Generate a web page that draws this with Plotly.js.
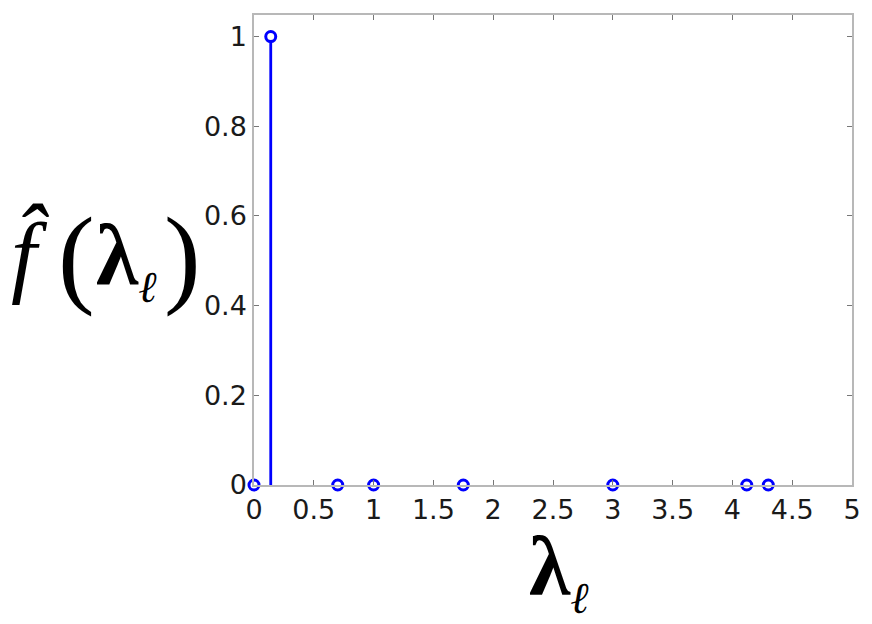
<!DOCTYPE html>
<html>
<head>
<meta charset="utf-8">
<script src="https://cdn.plot.ly/plotly-3.0.1.min.js"></script>
<style>
  html, body { margin: 0; padding: 0; background: #fff; }
  #plotArea { width: 872px; height: 624px; }
</style>
</head>
<body>
<div id="plotArea"></div>
<script>
// eigenvalues (x) and spectral coefficients (y)
var lambdas = [0, 0.14, 0.70, 1.0, 1.75, 3.0, 4.12, 4.30];
var fhat = [0, 1, 0, 0, 0, 0, 0, 0];

var xTicks = [0, 0.5, 1, 1.5, 2, 2.5, 3, 3.5, 4, 4.5, 5];
var yTicks = [0, 0.2, 0.4, 0.6, 0.8, 1];

var blue = "#0000ff";
var axisGray = "#b8b8b8";

// plot box in pixels (used to place the big math titles)
var W = 872, H = 624;
var L = 254, R = 20, T = 15, B = 139;
function px(x) { return (x - L) / (W - L - R); }
function py(y) { return (H - B - y) / (H - T - B); }

// stem plot: markers + error bars going down to zero
var trace = [{
  x: lambdas,
  y: fhat,
  mode: "markers",
  type: "scatter",
  cliponaxis: false,
  marker: { symbol: "circle", size: 10, color: "#fff", line: { color: blue, width: 3 } },
  error_y: {
    type: "data",
    symmetric: false,
    array: fhat.map(function () { return 0; }),
    arrayminus: fhat,
    color: blue,
    thickness: 2.8,
    width: 0
  },
  hoverinfo: "x+y"
}];

var tickFont = { family: "DejaVu Sans, sans-serif", size: 27, color: "#1a1a1a" };
var serif = "Liberation Serif, Times New Roman, serif";

function piece(text, x, y, size) {
  return {
    xref: "paper", yref: "paper",
    x: px(x), y: py(y),
    xanchor: "center", yanchor: "middle",
    showarrow: false,
    font: { family: serif, size: size, color: "#000" },
    text: text
  };
}

// bold lambda with a script-ell subscript
function lambdaEll(subSize) {
  return '<b>\u03bb</b><sub><span style="font-size:' + subSize + 'px"><i>\u2113</i></span></sub>';
}

var layout = {
  width: W,
  height: H,
  margin: { l: L, r: R, t: T, b: B },
  paper_bgcolor: "#fff",
  plot_bgcolor: "#fff",
  showlegend: false,
  xaxis: {
    range: [0, 5],
    tickvals: xTicks,
    ticktext: xTicks.map(String),
    ticks: "inside",
    ticklen: 5,
    tickcolor: "#777",
    tickwidth: 1,
    showline: true,
    linecolor: axisGray,
    linewidth: 1.5,
    mirror: "ticks",
    showgrid: false,
    zeroline: false,
    tickfont: tickFont
  },
  yaxis: {
    range: [0, 1.048],
    tickvals: yTicks,
    ticktext: yTicks.map(String),
    ticks: "inside",
    ticklen: 5,
    tickcolor: "#777",
    tickwidth: 1,
    showline: true,
    linecolor: axisGray,
    linewidth: 1.5,
    mirror: "ticks",
    showgrid: false,
    zeroline: false,
    tickfont: tickFont
  },
  annotations: [
    // y title: f-hat ( lambda_l )
    piece('<i>f\u0302</i>', 30, 254, 92),
    piece('(', 77, 256, 110),
    piece(lambdaEll(44), 126, 259, 86),
    piece(')', 182, 256, 110),
    // x title: lambda_l
    piece(lambdaEll(44), 559, 571, 84)
  ]
};

Plotly.newPlot("plotArea", trace, layout, { displayModeBar: false });
</script>
</body>
</html>
